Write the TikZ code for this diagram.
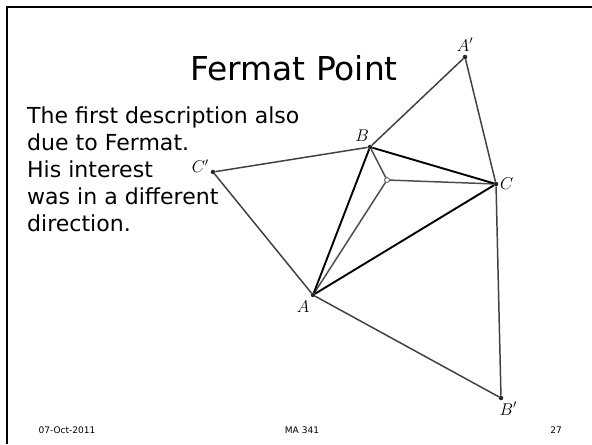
\documentclass[tikz,border=0pt]{standalone}
\usepackage{fontspec}
\setmainfont{DejaVu Sans}
\usetikzlibrary{positioning}

\begin{document}
\begin{tikzpicture}[
    x=1.216pt,
    y=-1.216pt,
    outer/.style={draw=black!75, line width=1.8pt},
    tri/.style={draw=black, line width=2.3pt},
    spoke/.style={draw=black!70, line width=1.8pt}
]

\tikzstyle{vertex}=[
    circle,
    fill=black!85,
    inner sep=0pt,
    minimum size=5.5pt
]
\tikzstyle{lbl}=[inner sep=0pt, font=\fontsize{21}{21}\selectfont]

\useasboundingbox (0,0) rectangle (592,444);
\draw[line width=3.5pt] (7,444) -- (7,7) -- (592,7);

% title and text
\node[anchor=base, font=\fontsize{40}{40}\selectfont] (title) at (294,80) {Fermat Point};
\node[anchor=north west, align=left, inner sep=0pt, font=\fontsize{26.8}{32.8}\selectfont] (desc) at (27,107)
    {The first description also\\due to Fermat.\\His interest\\was in a different\\direction.};

% points
\node[vertex] (A) at (313,295) {};
\node[vertex] (B) at (370,147) {};
\node[vertex] (C) at (496,184) {};
\node[vertex] (Ap) at (465,57) {};
\node[vertex] (Bp) at (501,398) {};
\node[vertex] (Cp) at (213,172) {};
\node[circle, draw=black!70, fill=white, inner sep=0pt, minimum size=6pt, line width=1pt] (F) at (387,180) {};

\node[lbl] (lA) [below left=5pt and 2pt of A] {$A$};
\node[lbl] (lB) [above left=4pt and -1pt of B] {$B$};
\node[lbl] (lC) [right=2pt of C] {$C$};
\node[lbl] (lAp) [above=4pt of Ap] {$A'$};
\node[lbl] (lBp) [below right=3pt and -4pt of Bp] {$B'$};
\node[lbl] (lCp) [above left=-3pt and 3pt of Cp] {$C'$};

\path
(Cp) edge [outer] (B)
(Cp) edge [outer] (A)
(Ap) edge [outer] (B)
(Ap) edge [outer] (C)
(Bp) edge [outer] (A)
(Bp) edge [outer] (C)

(F) edge [spoke] (A)
(F) edge [spoke] (B)
(F) edge [spoke] (C)

(A) edge [tri] (B)
(B) edge [tri] (C)
(C) edge [tri] (A);

% footer
\node[anchor=base, font=\fontsize{11}{11}\selectfont] (date) at (67,433) {07-Oct-2011};
\node[anchor=base, font=\fontsize{11}{11}\selectfont] (course) at (302,433) {MA 341};
\node[anchor=base, font=\fontsize{11}{11}\selectfont] (page) at (556,433) {27};

\end{tikzpicture}
\end{document}
